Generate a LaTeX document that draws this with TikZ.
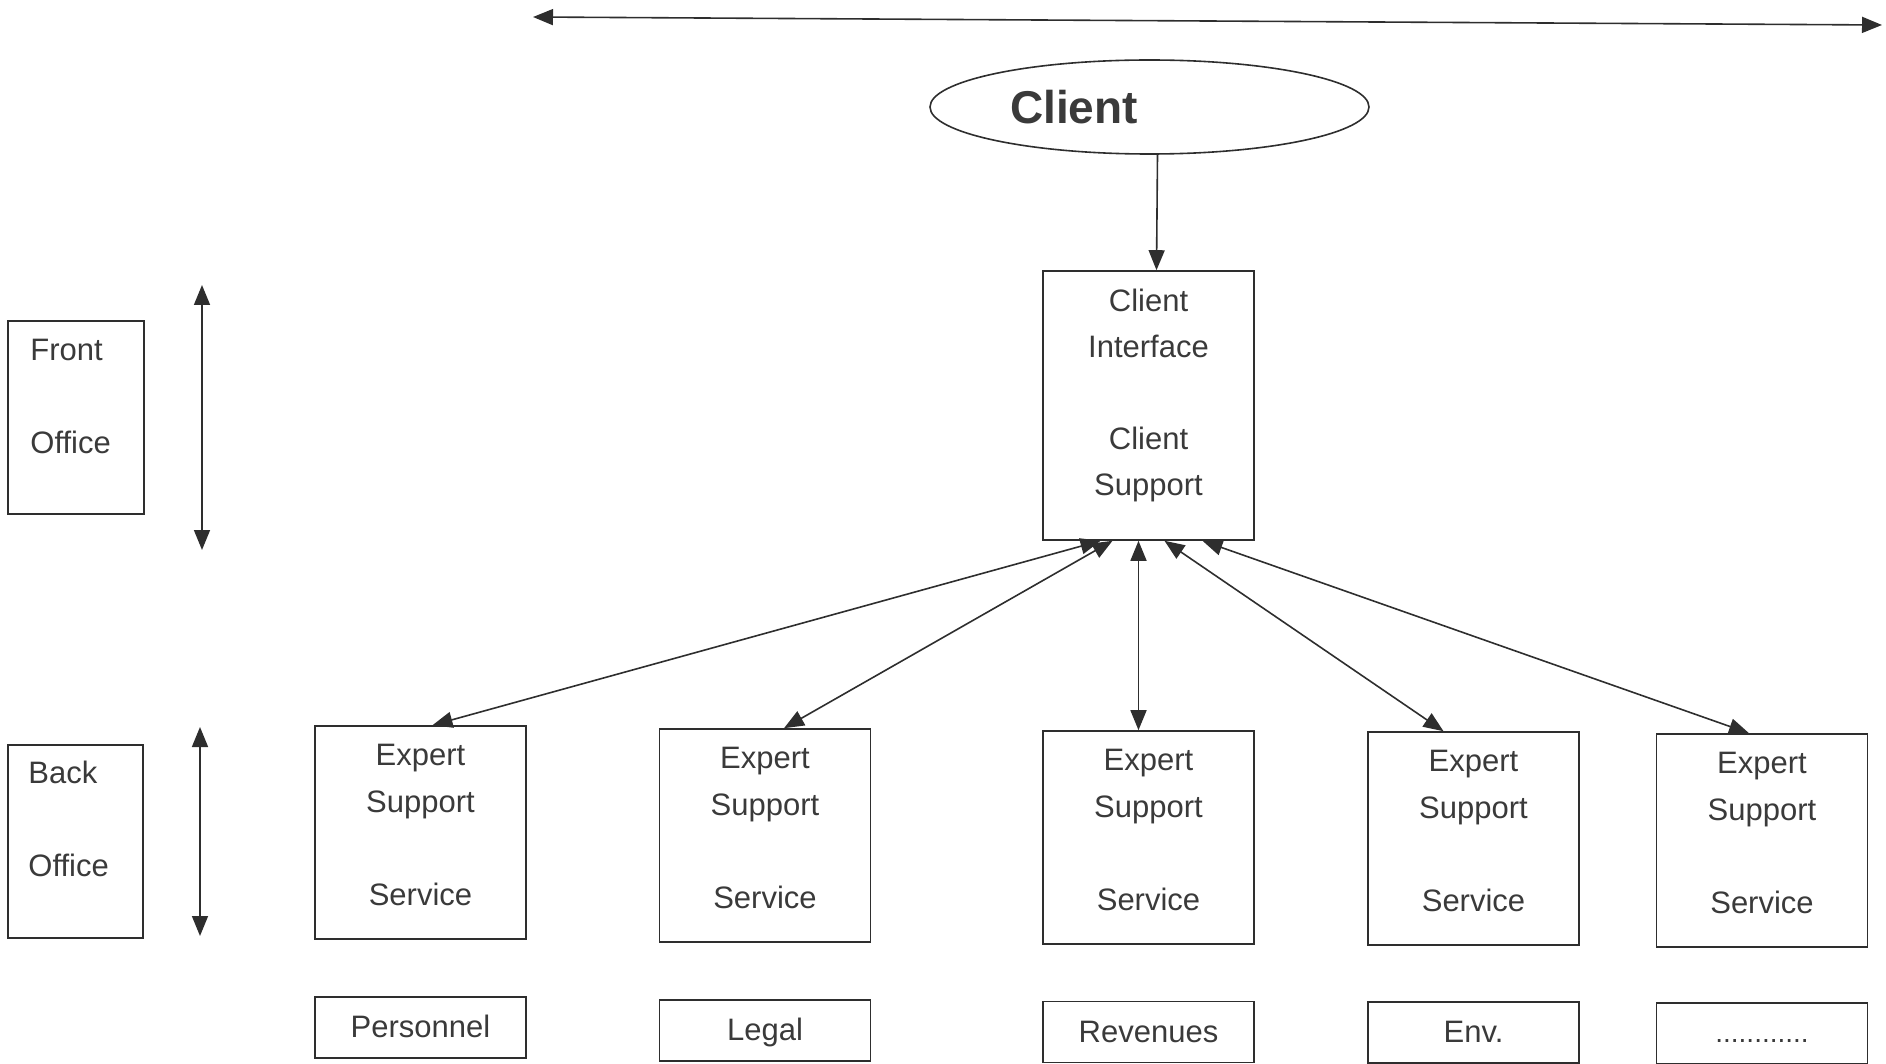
\documentclass[tikz,border=0pt]{standalone}
\usepackage{fontspec}
\setmainfont{Liberation Sans}
\usetikzlibrary{arrows.meta,shapes.geometric}
\definecolor{ink}{HTML}{2E2E2E}
\definecolor{txt}{HTML}{3A3A3A}
\begin{document}
\begin{tikzpicture}[x=0.5pt,y=-0.5pt,
  ln/.style={draw=ink, line width=0.8pt},
  boxw/.style={ln, rectangle, inner sep=0pt, minimum width=105.5pt},
  ebox/.style={boxw, minimum height=106.5pt},
  bbox/.style={boxw, minimum height=30.5pt},
  obox/.style={ln, rectangle, inner sep=0pt, minimum width=68pt, minimum height=96.5pt},
  lbl/.style={anchor=base, text=txt, font=\fontsize{15.5}{18}\selectfont, inner sep=0pt},
  lbll/.style={lbl, anchor=base west},
  tipone/.style={ink, line width=0.8pt, -{Triangle[length=10pt,width=8pt]}},
  tiptwo/.style={ink, line width=0.8pt, {Triangle[length=10pt,width=8pt]}-{Triangle[length=10pt,width=8pt]}}
]
\useasboundingbox (0,0) rectangle (1886,1064);

% top double arrow
\coordinate (tl) at (533,17);
\coordinate (tr) at (1882,25);
\draw[tiptwo] (tl) -- (tr);

% client ellipse
\node[ln, ellipse, inner sep=0pt, minimum width=219.5pt, minimum height=47pt] (client) at (1149.5,107) {};
\node[lbl, font=\fontsize{23}{26}\selectfont\bfseries] (clientt) at (1074,124) {Client};

% client interface box
\node[boxw, minimum height=134.5pt] (ci) at (1148.5,405.5) {};
\node[lbl] (ci1) at ([yshift=-20.5pt]ci.north) {Client};
\node[lbl] (ci2) at ([yshift=-43.5pt]ci.north) {Interface};
\node[lbl] (ci3) at ([yshift=-89.5pt]ci.north) {Client};
\node[lbl] (ci4) at ([yshift=-112.5pt]ci.north) {Support};

\draw[tipone] ([xshift=4pt]client.south) -- ([xshift=4pt]ci.north);

% front / back office
\node[obox] (front) at (76,417.5) {};
\node[lbll] (front1) at (30,361) {Front};
\node[lbll] (front2) at (30,453) {Office};
\coordinate (fa) at (202,285);
\coordinate (fb) at (202,550);
\draw[tiptwo] (fa) -- (fb);

\node[obox, minimum width=67.5pt] (back) at (75.5,841.5) {};
\node[lbll] (back1) at (28,783) {Back};
\node[lbll] (back2) at (28,876) {Office};
\coordinate (ba) at (200,727);
\coordinate (bb) at (200,936);
\draw[tiptwo] (ba) -- (bb);

% expert boxes
\foreach \n/\x/\y in {1/420.5/832.5, 2/765/835.5, 3/1148.5/837.5, 4/1473.5/838.5, 5/1762/840.5}{
  \node[ebox] (e\n) at (\x,\y) {};
  \node[lbl] (e\n a) at ([yshift=-20pt]e\n.north) {Expert};
  \node[lbl] (e\n b) at ([yshift=-43.5pt]e\n.north) {Support};
  \node[lbl] (e\n c) at ([yshift=-90pt]e\n.north) {Service};
}

% bottom boxes
\node[bbox] (b1) at (420.5,1027.5) {};
\node[bbox] (b2) at (765,1030.5) {};
\node[bbox] (b3) at (1148.5,1032) {};
\node[bbox] (b4) at (1473.5,1032.5) {};
\node[bbox] (b5) at (1762,1033.5) {};
\node[lbl] (b1t) at ([yshift=-5pt]b1.center) {Personnel};
\node[lbl] (b2t) at ([yshift=-5pt]b2.center) {Legal};
\node[lbl] (b3t) at ([yshift=-5pt]b3.center) {Revenues};
\node[lbl] (b4t) at ([yshift=-5pt]b4.center) {Env.};
\node[lbl, font=\fontsize{14}{16}\selectfont] (b5t) at ([yshift=-4.5pt]b5.center) {............};

% connectors between client interface and expert boxes
\draw[tiptwo] ([xshift=-24pt]ci.south) -- ([xshift=6pt]e1.north);
\draw[tiptwo] ([xshift=-18pt]ci.south) -- ([xshift=9.5pt]e2.north);
\draw[tiptwo] ([xshift=-5pt]ci.south) -- ([xshift=-5pt]e3.north);
\draw[tiptwo] ([xshift=8pt]ci.south) -- ([xshift=-15pt]e4.north);
\draw[tiptwo] ([xshift=27pt]ci.south) -- ([xshift=-6.5pt]e5.north);
\end{tikzpicture}
\end{document}
